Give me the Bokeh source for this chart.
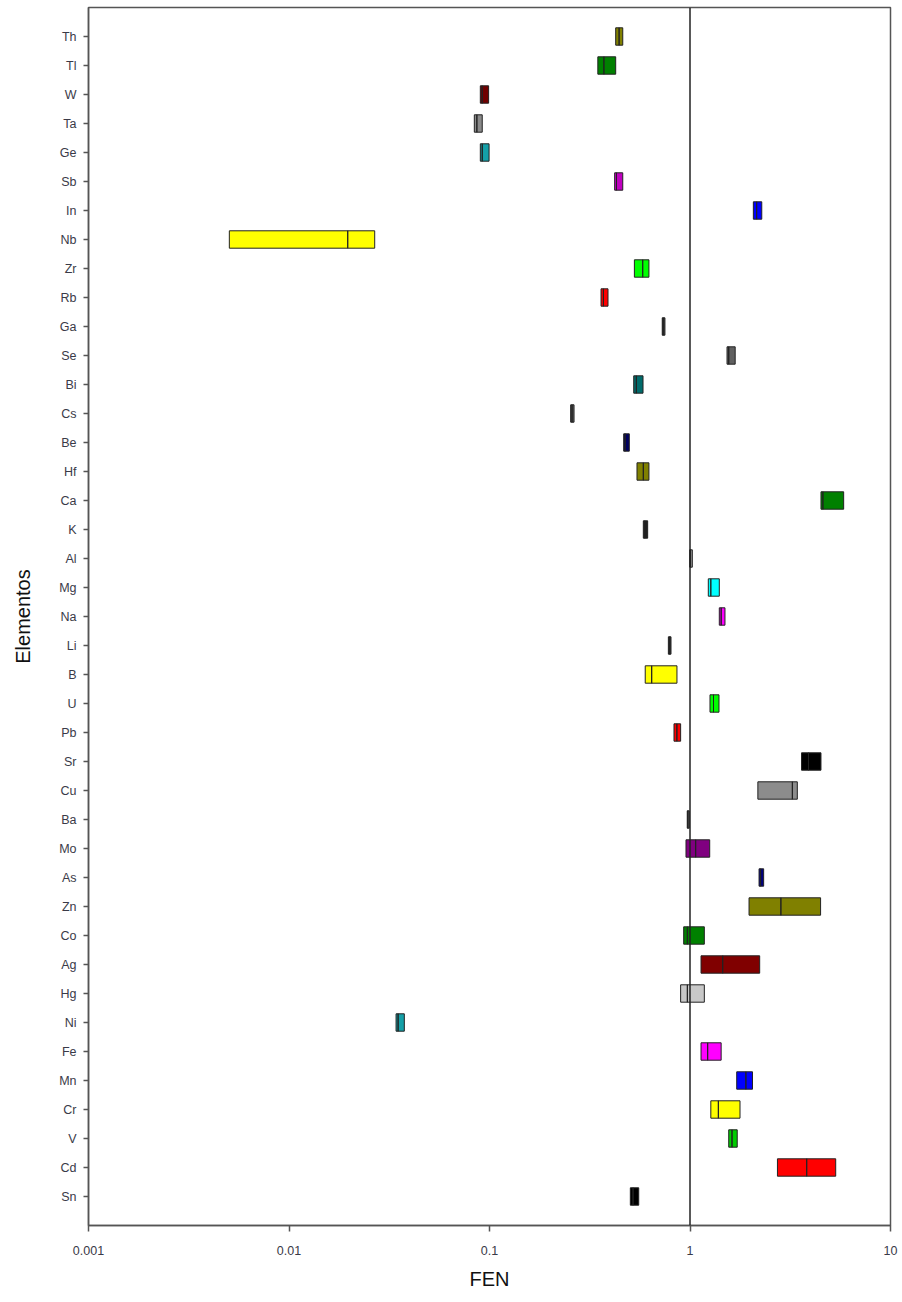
from bokeh.plotting import figure
from bokeh.models import Span, FixedTicker, CustomJSTickFormatter, ColumnDataSource
from bokeh.embed import file_html
from bokeh.resources import INLINE

# Elements as listed top to bottom
elements = ["Th", "Tl", "W", "Ta", "Ge", "Sb", "In", "Nb", "Zr", "Rb", "Ga", "Se", "Bi",
            "Cs", "Be", "Hf", "Ca", "K", "Al", "Mg", "Na", "Li", "B", "U", "Pb", "Sr",
            "Cu", "Ba", "Mo", "As", "Zn", "Co", "Ag", "Hg", "Ni", "Fe", "Mn", "Cr", "V",
            "Cd", "Sn"]
fen_min = [0.426, 0.347, 0.090, 0.084, 0.090, 0.421, 2.07, 0.00504, 0.528, 0.360, 0.727, 1.53, 0.524,
           0.254, 0.467, 0.544, 4.50, 0.585, 0.997, 1.234, 1.40, 0.780, 0.598, 1.258, 0.832, 3.60,
           2.18, 0.969, 0.955, 2.21, 1.97, 0.930, 1.135, 0.898, 0.0342, 1.135, 1.71, 1.27, 1.56,
           2.73, 0.504]
fen_med = [0.443, 0.372, 0.092, 0.0865, 0.092, 0.430, 2.15, 0.01963, 0.581, 0.370, 0.735, 1.56, 0.540,
           0.258, 0.475, 0.585, 4.60, 0.595, 1.005, 1.27, 1.43, 0.790, 0.644, 1.31, 0.860, 3.90,
           3.24, 0.975, 1.067, 2.25, 2.84, 0.970, 1.456, 0.970, 0.035, 1.225, 1.90, 1.385, 1.62,
           3.82, 0.520]
fen_max = [0.462, 0.426, 0.099, 0.092, 0.0995, 0.462, 2.28, 0.02676, 0.624, 0.390, 0.750, 1.68, 0.583,
           0.264, 0.498, 0.624, 5.84, 0.615, 1.027, 1.40, 1.494, 0.804, 0.861, 1.395, 0.898, 4.50,
           3.43, 0.992, 1.254, 2.33, 4.48, 1.179, 2.226, 1.179, 0.0376, 1.43, 2.05, 1.776, 1.72,
           5.33, 0.555]
colors = ["#808000", "#008000", "#700000", "#8a8a8a", "#14a0a8", "#c000c0", "#0000ff", "#ffff00",
          "#00ff00", "#ff0000", "#404040", "#606060", "#006b6b", "#606060", "#000060", "#808000",
          "#008000", "#202020", "#909090", "#00ffff", "#ff00ff", "#303030", "#ffff00", "#00ff00",
          "#ff0000", "#000000", "#8c8c8c", "#606060", "#800080", "#000080", "#808000", "#008000",
          "#800000", "#c8c8c8", "#14a0a8", "#ff00ff", "#0000ff", "#ffff00", "#00cc00", "#ff0000",
          "#000000"]
x_ticks = [0.001, 0.01, 0.1, 1, 10]

n = len(elements)
ypos = [n - i for i in range(n)]
src = ColumnDataSource(dict(y=ypos, lo=fen_min, med=fen_med, hi=fen_max, c=colors))

p = figure(width=900, height=1292, x_axis_type="log", x_range=(0.001, 10), y_range=(0, n + 1),
           output_backend="svg", toolbar_location=None,
           min_border_left=88, min_border_right=10, min_border_top=7, min_border_bottom=65)
p.xgrid.visible = False
p.ygrid.visible = False
p.outline_line_color = "#555555"
p.outline_line_width = 1.5

p.hbar(y="y", left="lo", right="hi", height=0.6, fill_color="c", line_color="#222222",
       line_width=1, source=src)
p.hbar(y="y", left="med", right="med", height=0.6, fill_alpha=0, line_color="#222222",
       line_width=1, source=src)

p.add_layout(Span(location=1, dimension="height", line_color="#222222", line_width=1.5))

lab_font = "Liberation Sans"
p.xaxis.ticker = FixedTicker(ticks=x_ticks)
p.xaxis.formatter = CustomJSTickFormatter(code="return String(tick);")
p.xaxis.minor_tick_line_color = None
p.xaxis.major_tick_out = 6
p.xaxis.major_tick_in = 0
p.xaxis.axis_label = "FEN"
p.xaxis.major_label_standoff = 14

p.yaxis.ticker = FixedTicker(ticks=ypos)
p.yaxis.major_label_overrides = {y: e for y, e in zip(ypos, elements)}
p.yaxis.minor_tick_line_color = None
p.yaxis.major_tick_out = 5
p.yaxis.major_tick_in = 0
p.yaxis.axis_label = "Elementos"
p.yaxis.major_label_standoff = 7

for ax in (p.xaxis[0], p.yaxis[0]):
    ax.axis_line_color = "#555555"
    ax.axis_line_width = 1.5
    ax.major_tick_line_color = "#555555"
    ax.major_tick_line_width = 1.5
    ax.major_label_text_font = lab_font
    ax.major_label_text_font_size = "12.5px"
    ax.major_label_text_color = "#3a3a48"
    ax.axis_label_text_font = lab_font
    ax.axis_label_text_font_size = "20px"
    ax.axis_label_text_font_style = "normal"
    ax.axis_label_text_color = "#111111"
p.yaxis.axis_label_standoff = 22
p.xaxis.axis_label_standoff = 10

open("out.html", "w").write(file_html(p, INLINE))
